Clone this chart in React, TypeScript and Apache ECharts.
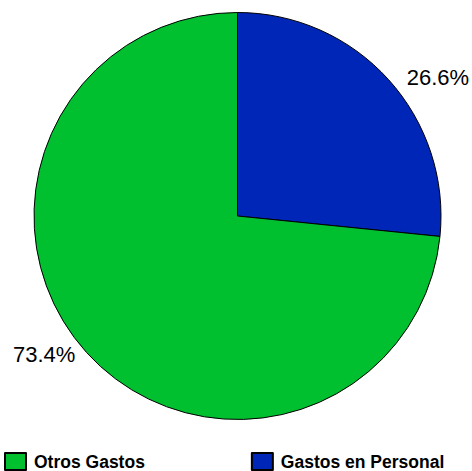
import React, { useEffect, useRef } from "react";
import * as echarts from "echarts";

const categories = ["Gastos en Personal", "Otros Gastos"];
const values = [26.6, 73.4];
const colors = ["#0026B8", "#00C030"];
const labelGaps = [8, 1];
const legendOrder = ["Otros Gastos", "Gastos en Personal"];

export default function App() {
  const ref = useRef<HTMLDivElement>(null);
  useEffect(() => {
    document.body.style.margin = "0";
    const chart = echarts.init(ref.current!, null, { renderer: "svg" });
    chart.setOption({
      animation: false,
      backgroundColor: "#ffffff",
      legend: {
        data: legendOrder,
        left: 4,
        top: 452,
        padding: 0,
        orient: "horizontal",
        icon: "rect",
        itemWidth: 21,
        itemHeight: 17,
        itemGap: 106,
        textStyle: {
          fontFamily: "Arial, 'Liberation Sans', sans-serif",
          fontWeight: "bold",
          fontSize: 17.5,
          lineHeight: 18,
          color: "#000",
          padding: [0, 0, 0, 3],
        },
      },
      series: [
        {
          type: "pie",
          center: [237.5, 216],
          radius: 203.5,
          startAngle: 90,
          clockwise: true,
          avoidLabelOverlap: false,
          silent: true,
          itemStyle: { borderColor: "#000", borderWidth: 1 },
          label: {
            show: true,
            position: "outside",
            formatter: (p: any) => `${p.value.toFixed(1)}%`,
            fontFamily: "Arial, 'Liberation Sans', sans-serif",
            fontSize: 22,
            color: "#000",
            distanceToLabelLine: 5,
          },
          labelLine: {
            show: false,
            length: 3,
            length2: 8,
          },
          emphasis: { disabled: true },
          data: categories.map((c, i) => ({
            name: c,
            value: values[i],
            itemStyle: { color: colors[i] },
            label: { distanceToLabelLine: labelGaps[i] },
          })),
        },
      ],
    });
    return () => chart.dispose();
  }, []);
  return <div ref={ref} style={{ width: 472, height: 471 }} />;
}
